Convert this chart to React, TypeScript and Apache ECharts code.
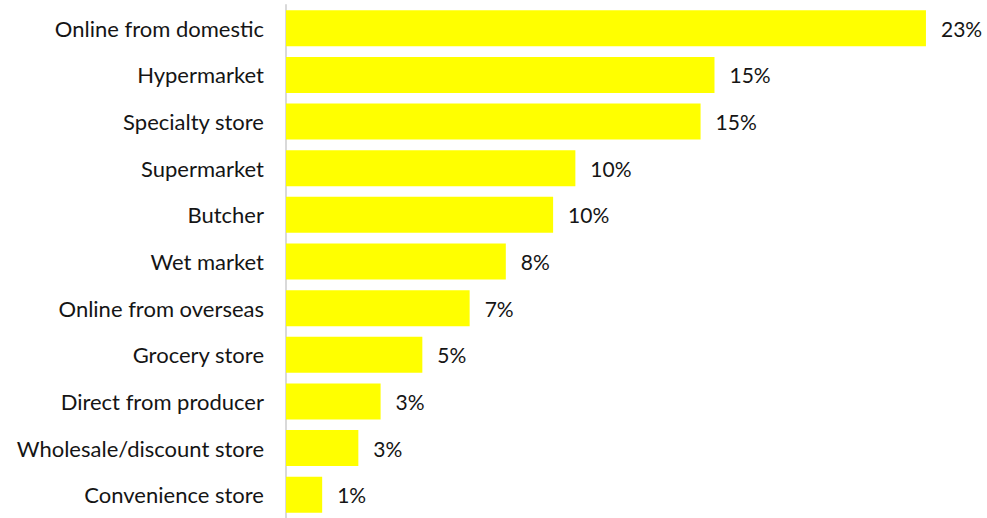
import React, { useEffect, useRef } from "react";
import * as echarts from "echarts";

const categories = [
  "Online from domestic",
  "Hypermarket",
  "Specialty store",
  "Supermarket",
  "Butcher",
  "Wet market",
  "Online from overseas",
  "Grocery store",
  "Direct from producer",
  "Wholesale/discount store",
  "Convenience store",
];
const values = [23, 15.4, 14.9, 10.4, 9.6, 7.9, 6.6, 4.9, 3.4, 2.6, 1.3];
const labels = ["23%", "15%", "15%", "10%", "10%", "8%", "7%", "5%", "3%", "3%", "1%"];

export default function App() {
  const ref = useRef<HTMLDivElement>(null);
  useEffect(() => {
    if (!ref.current) return;
    const chart = echarts.init(ref.current, null, { renderer: "svg" });
    chart.setOption({
      animation: false,
      grid: { left: 286, top: 5, width: 695.6, height: 517 },
      xAxis: {
        type: "value",
        min: 0,
        max: 25,
        show: false,
      },
      yAxis: {
        type: "category",
        data: categories,
        inverse: true,
        axisLine: { show: true, lineStyle: { color: "#d9d9d9", width: 2 } },
        axisTick: { show: false },
        axisLabel: {
          color: "#151515",
          fontFamily: "Lato",
          fontSize: 22,
          margin: 22,
        },
      },
      series: [
        {
          type: "bar",
          data: values,
          barWidth: 36,
          itemStyle: { color: "#ffff00" },
          label: {
            show: true,
            position: "right",
            distance: 15,
            color: "#151515",
            fontFamily: "Lato",
            fontSize: 21,
            formatter: (p: any) => labels[p.dataIndex],
          },
        },
      ],
    });
    return () => chart.dispose();
  }, []);
  return (
    <div
      ref={ref}
      style={{ position: "fixed", left: 0, top: 0, width: 987, height: 518, background: "#fff" }}
    />
  );
}
